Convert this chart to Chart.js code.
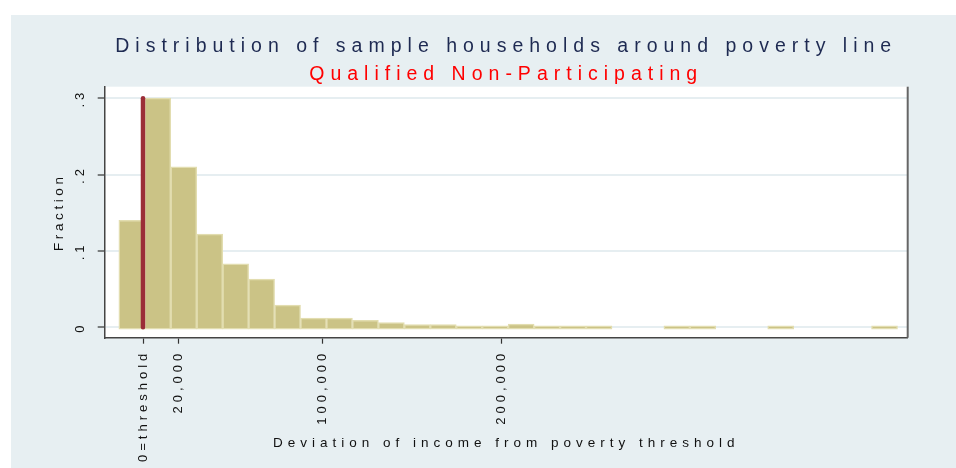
<!DOCTYPE html>
<html>
<head>
<meta charset="utf-8">
<script src="https://cdn.jsdelivr.net/npm/chart.js@4.4.1/dist/chart.umd.min.js"></script>
<style>
  html, body { margin: 0; padding: 0; background: #fff; overflow: hidden; }
  #frame { position: absolute; left: 11px; top: 15px; right: 0; bottom: 0; background: #e7eff2; }
  #wrap { position: absolute; left: 0; top: 0; width: 956px; height: 468px; }
</style>
</head>
<body>
<div id="frame"></div>
<div id="wrap"><canvas id="hist"></canvas></div>
<script>
// histogram bins (income deviation from poverty threshold)
var binStart = -13500;
var binWidth = 14500;
var fractions = [0.14, 0.30, 0.21, 0.122, 0.083, 0.063, 0.029, 0.012, 0.012, 0.009,
    0.006, 0.0035, 0.0035, 0.002, 0.002, 0.004, 0.002, 0.002, 0.002, 0,
    0, 0.002, 0.002, 0, 0, 0.002, 0, 0, 0, 0.002];
var thresholdValue = 0;
var thresholdTop = 0.3;
var xTickValues = [0, 20000, 100000, 200000];
var xTickLabels = ["0=threshold", "20,000", "100,000", "200,000"];
var yTickValues = [0, 0.1, 0.2, 0.3];
var yTickLabels = ["0", ".1", ".2", ".3"];

Chart.defaults.font.family = '"Liberation Sans", Arial, sans-serif';

// the original graph uses very wide letter spacing everywhere
function spaced(proto, name, amount) {
    var orig = proto[name];
    proto[name] = function () {
        var ctx = this.ctx;
        var prev = ctx.letterSpacing;
        ctx.letterSpacing = typeof amount === "function" ? amount(this) : amount;
        orig.apply(this, arguments);
        ctx.letterSpacing = prev;
    };
}
spaced(Chart.registry.getPlugin("title")._element.prototype, "draw", "6px");
spaced(Chart.registry.getScale("linear").prototype, "drawTitle", function (s) {
    return s.axis === "y" ? "3.6px" : "5px";
});

var framePlugin = {
    id: "frame",
    beforeUpdate: function (chart) {
        chart.ctx.letterSpacing = "4px";
    },
    beforeDraw: function (chart) {
        var ctx = chart.ctx;
        var a = chart.chartArea;
        ctx.letterSpacing = "4px";
        ctx.save();
        ctx.fillStyle = "#ffffff";
        ctx.fillRect(a.left, a.top, a.right - a.left, a.bottom - a.top);
        ctx.restore();
    },
    afterDraw: function (chart) {
        var ctx = chart.ctx;
        var a = chart.chartArea;
        ctx.save();
        ctx.strokeStyle = "#666";
        ctx.lineWidth = 2;
        ctx.beginPath();
        ctx.moveTo(a.right, a.top);
        ctx.lineTo(a.right, a.bottom);
        ctx.stroke();
        ctx.restore();
    }
};

var barData = fractions.map(function (f, i) {
    return { x: binStart + binWidth * (i + 0.5), y: f > 0 ? f : null };
});

var tickFont = { size: 13 };

new Chart(document.getElementById("hist"), {
    type: "bar",
    data: {
        datasets: [
            {
                type: "line",
                data: [{ x: thresholdValue, y: 0 }, { x: thresholdValue, y: thresholdTop }],
                borderColor: "#9b2d37",
                borderWidth: 4.5,
                borderCapStyle: "round",
                pointRadius: 0,
                order: 0
            },
            {
                type: "bar",
                data: barData,
                backgroundColor: "#cbc386",
                borderColor: "#e2ddb0",
                borderWidth: 1.5,
                borderSkipped: false,
                base: -0.0026,
                barPercentage: 1,
                categoryPercentage: 1,
                order: 1
            }
        ]
    },
    options: {
        responsive: true,
        maintainAspectRatio: false,
        animation: false,
        layout: { padding: { left: 0, right: 48.3, top: 0, bottom: 0 } },
        plugins: {
            legend: { display: false },
            tooltip: { enabled: false },
            title: {
                display: true,
                fullSize: false,
                text: "Distribution of sample households around poverty line",
                color: "#1e2a52",
                font: { size: 19.5, weight: "normal" },
                padding: { top: 35, bottom: 0 }
            },
            subtitle: {
                display: true,
                fullSize: false,
                text: "Qualified Non-Participating",
                color: "#ff0000",
                font: { size: 19.5, weight: "normal" },
                padding: { top: 4.9, bottom: 0 }
            }
        },
        scales: {
            x: {
                type: "linear",
                min: -21400,
                max: 427200,
                offset: false,
                afterBuildTicks: function (s) {
                    s.ticks = xTickValues.map(function (v) { return { value: v }; });
                },
                afterFit: function (s) { s.height = 130.3; },
                ticks: {
                    autoSkip: false,
                    minRotation: 90,
                    maxRotation: 90,
                    padding: 6,
                    color: "#111",
                    font: tickFont,
                    callback: function (v, i) { return xTickLabels[i]; }
                },
                grid: {
                    drawOnChartArea: false,
                    offset: false,
                    tickColor: "#333",
                    tickLength: 6,
                    tickWidth: 1.2
                },
                border: { color: "#444", width: 1.5 },
                title: {
                    display: true,
                    text: "Deviation of income from poverty threshold",
                    color: "#111",
                    font: { size: 13.5 },
                    padding: { top: 0, bottom: 17 }
                }
            },
            y: {
                min: -0.0137,
                max: 0.315,
                afterBuildTicks: function (s) {
                    s.ticks = yTickValues.map(function (v) { return { value: v }; });
                },
                afterFit: function (s) { s.width = 104.7; },
                ticks: {
                    minRotation: 90,
                    maxRotation: 90,
                    crossAlign: "center",
                    padding: 8,
                    color: "#111",
                    font: tickFont,
                    callback: function (v, i) { return yTickLabels[i]; }
                },
                grid: {
                    color: "#e6eef1",
                    lineWidth: 2,
                    tickColor: "#333",
                    tickLength: 7,
                    tickWidth: 1.2
                },
                border: { color: "#444", width: 1.5 },
                title: {
                    display: true,
                    text: "Fraction",
                    color: "#111",
                    font: { size: 13.5 },
                    padding: { top: 51.5, bottom: 0 }
                }
            }
        }
    },
    plugins: [framePlugin]
});
</script>
</body>
</html>
